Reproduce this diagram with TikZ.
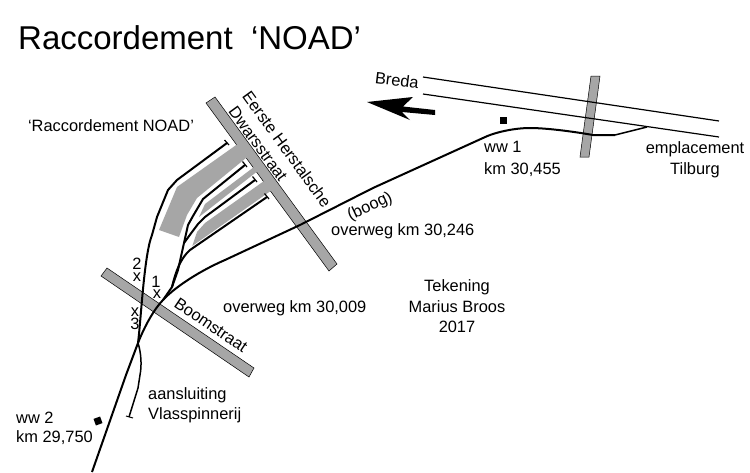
\documentclass[tikz,border=0pt]{standalone}
\usepackage{fontspec}
\setmainfont{Liberation Sans}
\tikzset{
  x=1pt,y=-1pt,
  road/.style={fill=black!35!white,draw=black,line width=0.5pt},
  block/.style={fill=black!35!white,draw=none},
  trk/.style={draw=black,line width=2pt,line join=round},
  rail/.style={draw=black,line width=1.2pt},
  stopbar/.style={draw=black,line width=1.2pt},
  lab/.style={font=\fontsize{16.4}{18}\selectfont,inner sep=0pt},
  llab/.style={lab,anchor=west}
}
\begin{document}
\begin{tikzpicture}
\useasboundingbox (0,0) rectangle (750,472);
\fill[white] (0,0) rectangle (750,472);
% roads
\fill[road] (206,103) -- (215,97) -- (337,264) -- (329,271) -- cycle;
\fill[road] (101,276) -- (107,268) -- (254,368) -- (249,377) -- cycle;
\fill[road] (591,76) -- (600,76) -- (589,157) -- (580,157) -- cycle;
% fan blocks
\fill[block] (237.6,144) -- (177,187) -- (159,230) -- (179,237) -- (187,215) -- (197,198) -- (246,158) -- (250,158) -- cycle;
\fill[block] (199,217) -- (205,204) -- (254,167) -- (259,170) -- cycle;
\fill[block] (192.3,246) -- (197,232) -- (205,223) -- (264,181) -- (272,190) -- cycle;
% rails
\draw[rail] (423,77) -- (719,121);
\draw[rail] (423,94) -- (719,137);
% main line
\draw[trk] (92,472) -- (126,375) -- (138,343) .. controls (145,325) and (155,308) .. (163,300)
  .. controls (172,290) and (195,273) .. (225,260) -- (300,225) -- (373,188) -- (483,138)
  .. controls (495,132) and (515,128) .. (530,128) .. controls (545,128) and (570,131) .. (593,135) -- (615,135);
\draw[trk,line width=1.5pt] (615,135) -- (647,127);
% track to the left
\draw[trk] (138,343) .. controls (141,320) and (144,255) .. (152,235) -- (157,217) -- (168,190) -- (177,180) -- (227,143);
\draw[stopbar] (224.5,140) -- (229,145);
% fan
\draw[trk] (163,300) -- (172,287) -- (178,270) -- (184,243) -- (188,225) -- (193,216) -- (203,199) -- (245,165);
\draw[stopbar] (242.5,161.5) -- (247,167);
\draw[trk] (184,243) -- (192,232) -- (198,224) -- (205,217) -- (255,180);
\draw[stopbar] (252.5,176.5) -- (257,182);
\draw[trk] (172,287) .. controls (176,270) and (181,258) .. (190,250) -- (267,197);
\draw[stopbar] (264.5,193.5) -- (269,199);
% aansluiting
\draw[trk,line width=1.5pt] (138,343) .. controls (141,352) and (142,365) .. (140,375) -- (138,388) -- (129,417);
\draw[draw=black,line width=1pt] (126,416) -- (133,418);
% markers
\fill[black] (499.5,116.5) rectangle (506.5,123.5);
\fill[black,rotate around={20:(98,421)}] (94.5,417.5) rectangle (101.5,424.5);
% arrow
\fill[black] (367,102) -- (413,97) -- (403,106.5) -- (435,110) -- (435,115) -- (402,112) -- (410,120) -- cycle;
% texts
\node[inner sep=0pt,anchor=west,font=\fontsize{33}{36}\selectfont] (title) at (18,38) {Raccordement\ \ ‘NOAD’};
\node[lab] (rn) at (111,126) {‘Raccordement NOAD’};
\node[lab,rotate=-7] (breda) at (397,80) {Breda};
\node[lab,rotate=-54] (eh) at (287,149) {Eerste Herstalsche};
\node[lab,rotate=-54] (dw) at (258,144) {Dwarsstraat};
\node[lab,rotate=-34] (bs) at (211,325) {Boomstraat};
\node[lab,rotate=25] (boog) at (370,207) {(boog)};
\node[llab] (ww1) at (484,147) {ww 1};
\node[llab] (km1) at (484,170) {km 30,455};
\node[lab] (emp) at (695,149) {emplacement};
\node[lab] (til) at (695,170) {Tilburg};
\node[llab] (ow1) at (331,231) {overweg km 30,246};
\node[llab] (ow2) at (223,308) {overweg km 30,009};
\node[lab] (tek) at (457,287) {Tekening};
\node[lab] (mar) at (457,307) {Marius Broos};
\node[lab] (yr) at (457,327) {2017};
\node[llab] (aan) at (148,395) {aansluiting};
\node[llab] (vla) at (148,415) {Vlasspinnerij};
\node[llab] (ww2) at (16,418) {ww 2};
\node[llab] (km2) at (16,438) {km 29,750};
\node[lab] (n2) at (137,264) {2};
\node[lab] (x2) at (137,277) {x};
\node[lab] (n1) at (156,282) {1};
\node[lab] (x1) at (157,294) {x};
\node[lab] (x3) at (135,312) {x};
\node[lab] (n3) at (135,324) {3};
\end{tikzpicture}
\end{document}
